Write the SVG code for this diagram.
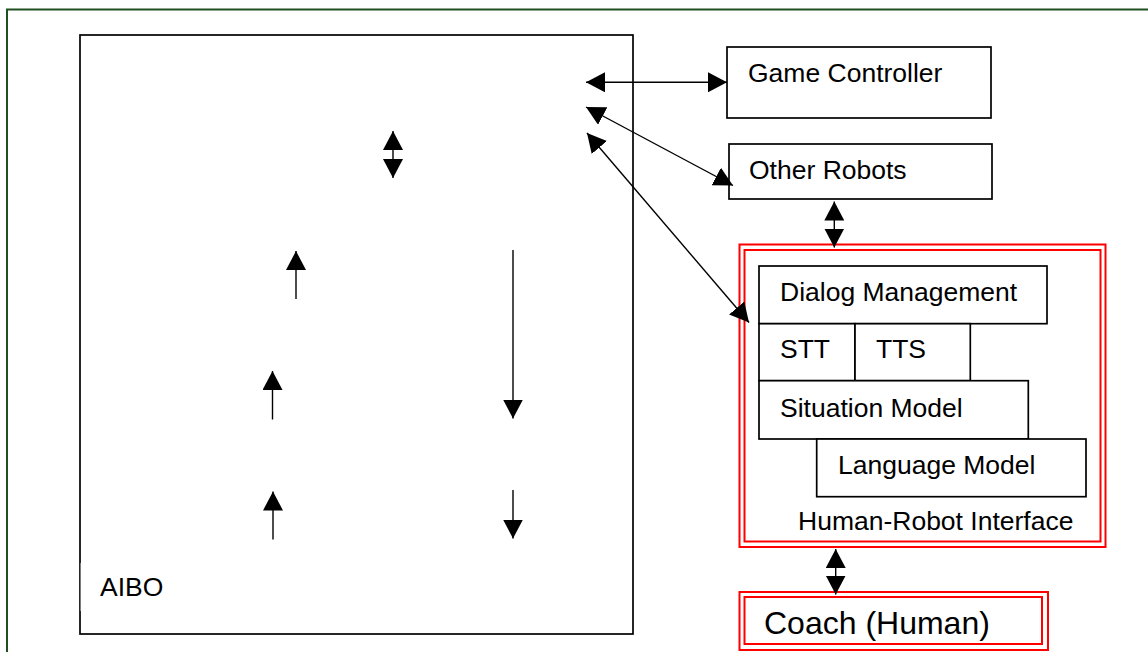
<svg xmlns="http://www.w3.org/2000/svg" width="1148" height="652" viewBox="0 0 1148 652">
<style>
.box{fill:#fff;stroke:#000;stroke-width:1.7}
.red{fill:none;stroke:#ff0000;stroke-width:2}
.lbl{font-family:"Liberation Sans",Arial,sans-serif;font-size:26.5px;fill:#000}
.big{font-size:32px}
.con{stroke:#000;stroke-width:1.4;fill:none}
.dbl{marker-start:url(#ah);marker-end:url(#ah)}
.one{marker-end:url(#ah)}
</style>
<defs>
<marker id="ah" viewBox="0 0 19 20" refX="19" refY="10" markerWidth="19" markerHeight="20" markerUnits="userSpaceOnUse" orient="auto-start-reverse">
<path d="M0,0 L19,10 L0,20 z" fill="#000"/>
</marker>
</defs>
<rect x="0" y="0" width="1148" height="652" fill="#fff"/>
<rect id="frame" x="7" y="9.5" width="1150" height="660" fill="none" stroke="#1f4f1f" stroke-width="2"/>

<g id="aibo">
<rect class="box" x="80" y="35" width="553" height="599"/>
<rect x="80.6" y="563" width="60" height="48" fill="#fff"/>
<text class="lbl" x="100" y="596">AIBO</text>
</g>

<g id="game-controller">
<rect class="box" x="727" y="47" width="264" height="71"/>
<text class="lbl" x="748" y="82">Game Controller</text>
</g>

<g id="other-robots">
<rect class="box" x="729" y="144" width="263" height="55"/>
<text class="lbl" x="749" y="179">Other Robots</text>
</g>

<g id="hri">
<rect class="red" x="739.5" y="244.5" width="366" height="302.5"/>
<rect class="red" x="744.5" y="250" width="356" height="291.5"/>
<text class="lbl" x="798" y="530">Human-Robot Interface</text>
<g id="dialog-management">
<rect class="box" x="759" y="266" width="288" height="57.7"/>
<text class="lbl" x="780" y="301">Dialog Management</text>
</g>
<g id="stt">
<rect class="box" x="759" y="323.7" width="96" height="57"/>
<text class="lbl" x="780" y="358">STT</text>
</g>
<g id="tts">
<rect class="box" x="855" y="323.7" width="115.3" height="57"/>
<text class="lbl" x="876" y="358">TTS</text>
</g>
<g id="situation-model">
<rect class="box" x="759" y="380.7" width="269.3" height="58.3"/>
<text class="lbl" x="780" y="416.5">Situation Model</text>
</g>
<g id="language-model">
<rect class="box" x="816.7" y="439" width="269.3" height="57.7"/>
<text class="lbl" x="838" y="474">Language Model</text>
</g>
</g>

<g id="coach">
<rect class="red" x="739.5" y="592" width="308.5" height="58"/>
<rect class="red" x="744.5" y="597" width="297.5" height="47"/>
<text class="lbl big" x="764" y="634">Coach (Human)</text>
</g>

<g id="connectors">
<line class="con dbl" x1="586" y1="82.3" x2="727" y2="82.3"/>
<line class="con dbl" x1="586" y1="107" x2="733" y2="185.5"/>
<line class="con dbl" x1="587" y1="133" x2="749" y2="322.5"/>
<line class="con dbl" x1="834.3" y1="201.5" x2="834.3" y2="247.5"/>
<line class="con dbl" x1="835.7" y1="549" x2="835.7" y2="594.5"/>
<line class="con dbl" x1="393" y1="131" x2="393" y2="178"/>
<line class="con one" x1="296" y1="299" x2="296" y2="251"/>
<line class="con one" x1="272.5" y1="419.5" x2="272.5" y2="371"/>
<line class="con one" x1="273" y1="539.5" x2="273" y2="491.5"/>
<line class="con one" x1="513" y1="250" x2="513" y2="418.5"/>
<line class="con one" x1="513" y1="490" x2="513" y2="538.5"/>
</g>
</svg>
